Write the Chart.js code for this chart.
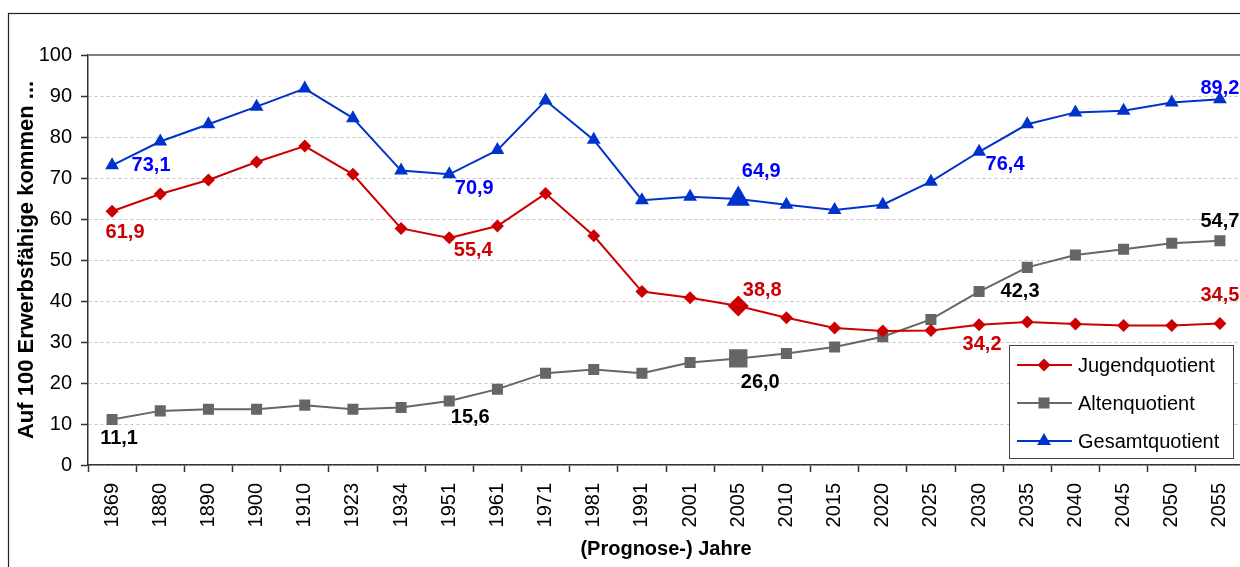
<!DOCTYPE html>
<html>
<head>
<meta charset="utf-8">
<script src="https://cdn.jsdelivr.net/npm/chart.js@4.4.1/dist/chart.umd.min.js"></script>
<style>
  html, body { margin: 0; padding: 0; background: #fff; overflow: hidden; }
  #wrap { width: 1240px; height: 567px; overflow: hidden; }
</style>
</head>
<body>
<div id="wrap"><canvas id="quotChart" width="1290" height="600"></canvas></div>
<script>
// Jahre (Kategorien)
const years = ['1869', '1880', '1890', '1900', '1910', '1923', '1934', '1951', '1961', '1971', '1981', '1991',
    '2001', '2005', '2010', '2015', '2020', '2025', '2030', '2035', '2040', '2045', '2050', '2055'];

// Auf 100 Erwerbsfähige kommen ...
const jugend = [61.9, 66.1, 69.5, 73.9, 77.8, 70.9, 57.7, 55.4, 58.3, 66.2, 55.9, 42.3,
    40.8, 38.8, 35.9, 33.4, 32.7, 32.8, 34.2, 34.9, 34.4, 34.0, 34.0, 34.5];
const alten = [11.1, 13.2, 13.6, 13.6, 14.6, 13.6, 14.0, 15.6, 18.5, 22.4, 23.3, 22.4,
    25.0, 26.0, 27.2, 28.8, 31.3, 35.5, 42.3, 48.2, 51.2, 52.6, 54.1, 54.7];
const gesamt = [73.1, 78.9, 83.1, 87.4, 91.8, 84.6, 71.8, 70.9, 76.8, 88.9, 79.3, 64.6,
    65.4, 64.9, 63.5, 62.2, 63.5, 69.1, 76.4, 83.1, 86.0, 86.4, 88.4, 89.2];

const yTicks = [0, 10, 20, 30, 40, 50, 60, 70, 80, 90, 100];

const FONT = '"Liberation Sans", Arial, sans-serif';
const RED = '#cc0000', GREY = '#666666', BLUE = '#0033cc';

// which points get a value label, and where the text sits relative to the point
const labelSpots = [
    { ds: 0, idx: 0, dx: 13, dy: 21, color: RED },
    { ds: 0, idx: 7, dx: 24, dy: 13, color: RED },
    { ds: 0, idx: 13, dx: 24, dy: -15, color: RED },
    { ds: 0, idx: 18, dx: 3, dy: 20, color: RED },
    { ds: 0, idx: 23, dx: 0, dy: -28, color: RED },
    { ds: 1, idx: 0, dx: 7, dy: 19, color: '#000' },
    { ds: 1, idx: 7, dx: 21, dy: 16, color: '#000' },
    { ds: 1, idx: 13, dx: 22, dy: 24, color: '#000' },
    { ds: 1, idx: 18, dx: 41, dy: 0, color: '#000' },
    { ds: 1, idx: 23, dx: 0, dy: -19, color: '#000' },
    { ds: 2, idx: 0, dx: 39, dy: 0, color: '#0000ff' },
    { ds: 2, idx: 7, dx: 25, dy: 14, color: '#0000ff' },
    { ds: 2, idx: 13, dx: 23, dy: -27, color: '#0000ff' },
    { ds: 2, idx: 18, dx: 26, dy: 13, color: '#0000ff' },
    { ds: 2, idx: 23, dx: 0, dy: -11, color: '#0000ff' }
];

// bigger marker for 2005
const HL = years.indexOf('2005');
const radii = (normal, big) => years.map((y, i) => i === HL ? big : normal);

function fmt(v) {
    return v.toFixed(1).replace('.', ',');
}

function drawMarker(ctx, style, x, y, r, color) {
    ctx.save();
    ctx.fillStyle = color;
    ctx.beginPath();
    if (style === 'rectRot') {
        ctx.moveTo(x - r, y); ctx.lineTo(x, y - r); ctx.lineTo(x + r, y); ctx.lineTo(x, y + r);
    } else if (style === 'rect') {
        const s = r * Math.SQRT1_2;
        ctx.rect(x - s, y - s, 2 * s, 2 * s);
    } else {
        ctx.moveTo(x, y - r);
        ctx.lineTo(x + r * 0.866, y + r / 2);
        ctx.lineTo(x - r * 0.866, y + r / 2);
    }
    ctx.closePath();
    ctx.fill();
    ctx.restore();
}

const frameAndLabels = {
    id: 'frameAndLabels',
    beforeDraw(chart) {
        const ctx = chart.ctx;
        ctx.save();
        ctx.fillStyle = '#fff';
        ctx.fillRect(0, 0, chart.width, chart.height);
        ctx.strokeStyle = '#222';
        ctx.lineWidth = 1.2;
        ctx.strokeRect(8.5, 13.5, chart.width, chart.height);
        ctx.restore();
    },
    beforeDatasetsDraw(chart) {
        // top border of the plot area
        const { ctx, chartArea } = chart;
        ctx.save();
        ctx.strokeStyle = '#808080';
        ctx.lineWidth = 2;
        ctx.beginPath();
        ctx.moveTo(chartArea.left, chartArea.top);
        ctx.lineTo(chartArea.right, chartArea.top);
        ctx.lineTo(chartArea.right, chartArea.bottom);
        ctx.stroke();
        ctx.restore();
    },
    afterDatasetsDraw(chart) {
        const ctx = chart.ctx;
        ctx.save();
        ctx.font = 'bold 20px ' + FONT;
        ctx.textAlign = 'center';
        ctx.textBaseline = 'middle';
        labelSpots.forEach(s => {
            const pt = chart.getDatasetMeta(s.ds).data[s.idx];
            const v = chart.data.datasets[s.ds].data[s.idx];
            ctx.fillStyle = s.color;
            ctx.fillText(fmt(v), pt.x + s.dx, pt.y + s.dy);
        });
        ctx.restore();
    },
    afterDraw(chart) {
        // legend box inside the plot
        const ctx = chart.ctx;
        const bx = 1009.5, by = 345.5, bw = 224, bh = 113;
        ctx.save();
        ctx.fillStyle = '#fff';
        ctx.fillRect(bx, by, bw, bh);
        ctx.strokeStyle = '#444';
        ctx.lineWidth = 1;
        ctx.strokeRect(bx, by, bw, bh);
        ctx.font = '20px ' + FONT;
        ctx.textBaseline = 'middle';
        ctx.textAlign = 'left';
        chart.data.datasets.forEach((ds, i) => {
            const y = 365 + i * 38;
            ctx.strokeStyle = ds.borderColor;
            ctx.lineWidth = 2;
            ctx.beginPath();
            ctx.moveTo(1017, y);
            ctx.lineTo(1072, y);
            ctx.stroke();
            drawMarker(ctx, ds.pointStyle, 1044, y, ds.legendRadius, ds.borderColor);
            ctx.fillStyle = '#000';
            ctx.fillText(ds.label, 1078, y + 1);
        });
        ctx.restore();
    }
};

const ctx = document.getElementById('quotChart').getContext('2d');
const quotChart = new Chart(ctx, {
    type: 'line',
    data: {
        labels: years,
        datasets: [
            {
                label: 'Jugendquotient',
                data: jugend,
                borderColor: RED,
                backgroundColor: RED,
                borderWidth: 2,
                pointStyle: 'rectRot',
                pointRadius: radii(6.5, 10.5),
                legendRadius: 6.5,
                pointBorderWidth: 0,
                tension: 0
            },
            {
                label: 'Altenquotient',
                data: alten,
                borderColor: GREY,
                backgroundColor: GREY,
                borderWidth: 2,
                pointStyle: 'rect',
                pointRadius: radii(7.8, 13),
                legendRadius: 7.8,
                pointBorderWidth: 0,
                tension: 0
            },
            {
                label: 'Gesamtquotient',
                data: gesamt,
                borderColor: BLUE,
                backgroundColor: BLUE,
                borderWidth: 2,
                pointStyle: 'triangle',
                pointRadius: radii(8, 13.5),
                legendRadius: 8,
                pointBorderWidth: 0,
                tension: 0
            }
        ]
    },
    options: {
        responsive: false,
        animation: false,
        layout: { padding: { left: 8, top: 55, right: 46, bottom: 0 } },
        plugins: {
            legend: { display: false },
            tooltip: { enabled: false }
        },
        scales: {
            x: {
                offset: true,
                afterFit: s => { s.height = 135; },
                grid: {
                    offset: true,
                    drawOnChartArea: false,
                    tickLength: 7,
                    tickColor: '#333',
                    tickWidth: 1.5
                },
                border: { color: '#333', width: 1.5 },
                ticks: {
                    minRotation: 90,
                    maxRotation: 90,
                    autoSkip: false,
                    padding: 11,
                    color: '#000',
                    font: { family: FONT, size: 20 }
                },
                title: {
                    display: true,
                    text: '(Prognose-) Jahre',
                    color: '#000',
                    font: { family: FONT, size: 20, weight: 'bold' },
                    padding: { top: 0, bottom: 39 }
                }
            },
            y: {
                min: 0,
                max: 100,
                afterFit: s => { s.width = 80; },
                afterBuildTicks: s => { s.ticks = yTicks.map(v => ({ value: v })); },
                grid: {
                    color: '#c8c8c8',
                    lineWidth: 1,
                    tickLength: 7,
                    tickColor: '#333',
                    tickWidth: 1.5
                },
                border: { color: '#333', width: 1.5, dash: [3, 3] },
                ticks: {
                    padding: 9,
                    color: '#000',
                    font: { family: FONT, size: 20 }
                },
                title: {
                    display: true,
                    text: 'Auf 100 Erwerbsfähige kommen ...',
                    color: '#000',
                    font: { family: FONT, size: 22, weight: 'bold' },
                    padding: { top: 6, bottom: 0 }
                }
            }
        }
    },
    plugins: [frameAndLabels]
});
</script>
</body>
</html>
